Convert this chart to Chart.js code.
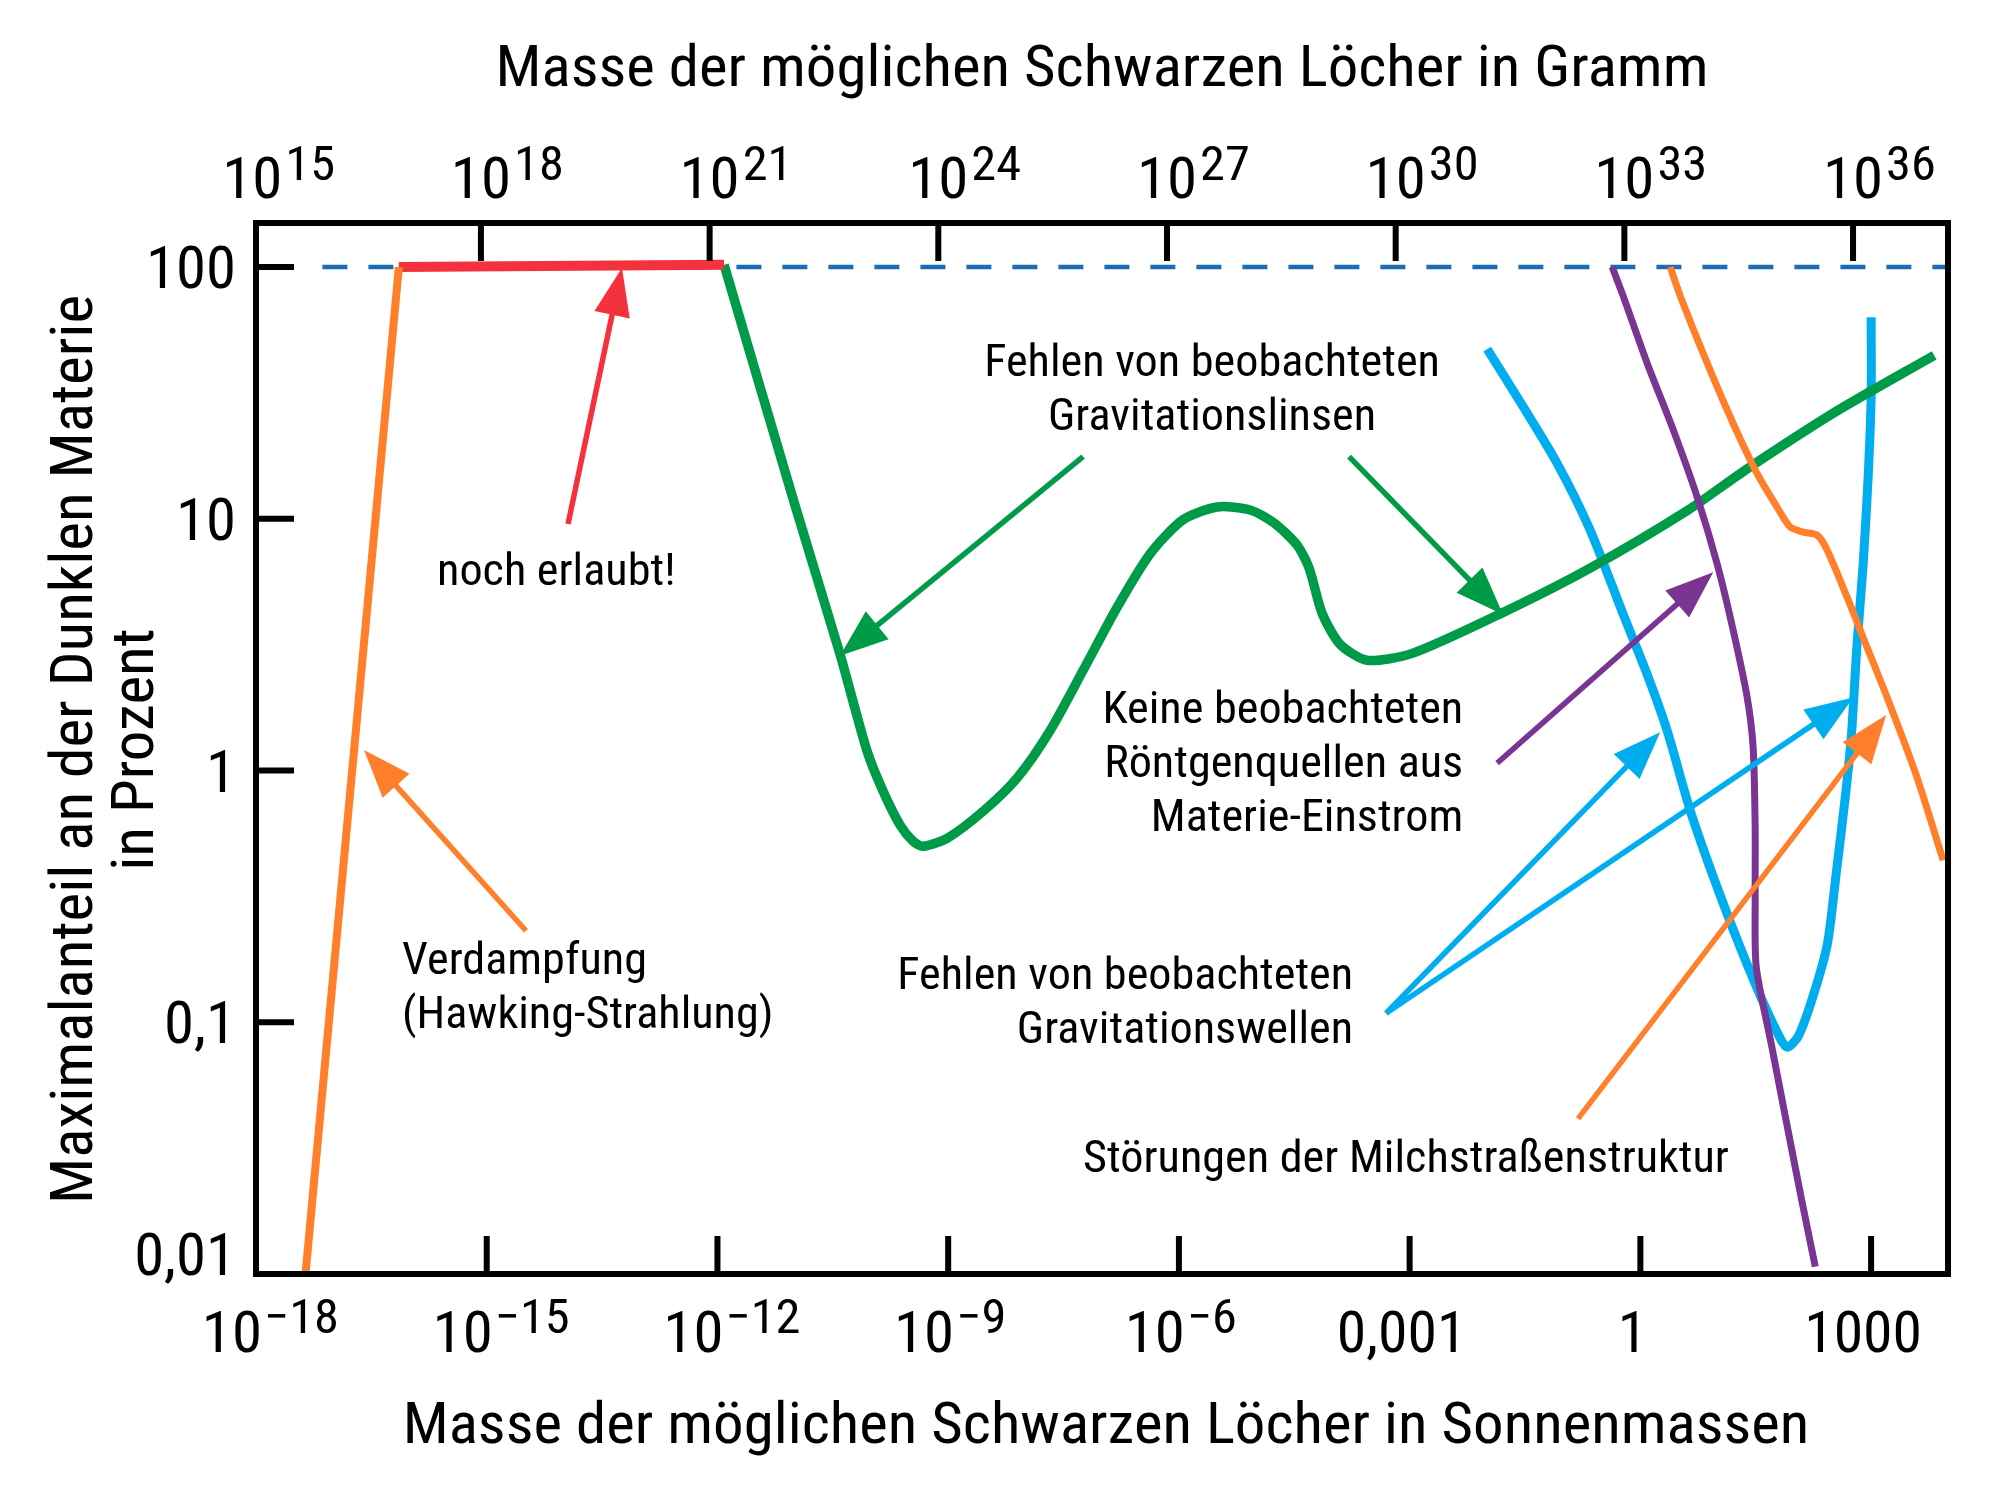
<!DOCTYPE html>
<html lang="de">
<head>
<meta charset="utf-8">
<title>Primordiale Schwarze Löcher als Dunkle Materie</title>
<script src="https://cdn.jsdelivr.net/npm/chart.js@4.4.1/dist/chart.umd.min.js"></script>
<style>
  html, body { margin: 0; padding: 0; background: #fff; }
  #wrap { width: 2000px; height: 1502px; position: relative; }
</style>
</head>
<body>
<div id="wrap"><canvas id="chart"></canvas></div>
<script>
// --- axes ---
const massMin = 1e-18, massMax = 1e4;          // Sonnenmassen (bottom)
const gramsMin = 1.12e15, gramsMax = 1.76e37;  // Gramm (top), range as drawn in the figure
const shareMin = 0.01, shareMax = 149.6;       // Prozent

const bottomTickValues = [1e-18, 1e-15, 1e-12, 1e-9, 1e-6, 1e-3, 1, 1e3];
const bottomTickBase = ['10', '10', '10', '10', '10', '0,001', '1', '1000'];
const bottomTickExp = ['\u221218', '\u221215', '\u221212', '\u22129', '\u22126', '', '', ''];
const topTickValues = [1e15, 1e18, 1e21, 1e24, 1e27, 1e30, 1e33, 1e36];
const topTickExp = ['15', '18', '21', '24', '27', '30', '33', '36'];
const shareTickValues = [0.01, 0.1, 1, 10, 100];
const shareTickLabels = ['0,01', '0,1', '1', '10', '100'];

// --- curves (mass in Sonnenmassen, share in %) ---
const evapMass = [4.4e-18, 7.2e-17];
const evapShare = [0.01, 100];

const allowedMass = [7.2e-17, 1.22e-12];
const allowedShare = [100, 102];

const lensMass = [1.22e-12, 1.02e-11, 3.93e-11, 8.81e-11, 1.42e-10, 2.37e-10, 3.50e-10, 4.72e-10, 9.68e-10,
  2.85e-9, 7.87e-9, 2.11e-8, 5.68e-8, 1.57e-7, 4.22e-7, 1.13e-6, 3.14e-6, 8.43e-6, 1.73e-5, 3.44e-5,
  4.93e-5, 7.28e-5, 1.25e-4, 2.80e-4, 1.08e-3, 0.0155, 0.222, 4.19, 23.8, 352, 6610];
const lensShare = [102, 11.3, 2.89, 1.195, 0.829, 0.607, 0.524, 0.500, 0.538,
  0.689, 0.934, 1.44, 2.50, 4.45, 7.26, 9.91, 11.14, 10.84, 9.62, 7.86,
  6.37, 4.21, 3.17, 2.74, 2.92, 4.21, 6.37, 10.84, 15.7, 26.7, 44.6];

const gwMass = [0.0102, 0.0299, 0.0828, 0.222, 0.597, 1.225, 2.23, 4.57, 12.7, 32.1, 63.8, 81, 113, 171,
  269, 352, 460, 551, 659, 789, 916, 1002, 1002];
const gwShare = [47.2, 27.9, 16.6, 9.03, 4.18, 2.41, 1.44, 0.676, 0.282, 0.139, 0.0879, 0.0795, 0.0879, 0.1235,
  0.203, 0.390, 0.777, 1.34, 3.22, 6.61, 14.7, 30.6, 63.2];

const xrayMass = [0.43, 0.597, 1.225, 2.67, 5.48, 9.98, 16.1, 24.5, 29.3, 31.1, 31.1, 32.1, 50.2, 78.7, 123, 188];
const xrayShare = [100, 76.8, 41.5, 22.6, 12.2, 6.61, 3.61, 1.95, 1.23, 0.590, 0.310, 0.166, 0.0824, 0.0406, 0.0202, 0.0107];

const milkyMass = [2.44, 3.30, 7.40, 16.1, 33.0, 60.1, 88.7, 131, 199, 269, 489, 789, 1618, 3855, 8650];
const milkyShare = [100, 76.8, 41.5, 23.9, 15.1, 11.1, 9.27, 8.85, 8.61, 7.50, 4.87, 3.37, 1.95, 0.960, 0.440];

const fullMass = [7.3e-18, 1e4];
const fullShare = [100, 100];

// --- annotations (anchor in data coordinates) ---
const noteLines = [
  ['noch erlaubt!'],
  ['Verdampfung', '(Hawking-Strahlung)'],
  ['Fehlen von beobachteten', 'Gravitationslinsen'],
  ['Keine beobachteten', 'R\u00f6ntgenquellen aus', 'Materie-Einstrom'],
  ['Fehlen von beobachteten', 'Gravitationswellen'],
  ['St\u00f6rungen der Milchstra\u00dfenstruktur'],
];
const noteMass = [2.26e-16, 7.93e-17, 2.70e-6, 4.97e-3, 1.84e-4, 5.68e-8];
const noteShare = [5.44, 0.1555, 36.8, 1.546, 0.1355, 0.0254];
const noteAlign = ['left', 'left', 'center', 'right', 'right', 'left'];

const arrowFrom = [[1.14e-14, 9.53], [3.24e-15, 0.231], [5.68e-8, 17.65], [1.63e-4, 17.65],
  [0.01374, 1.07], [4.94e-4, 0.1086], [4.94e-4, 0.1086], [0.155, 0.0414]];
const arrowTo = [[5.74e-14, 99.3], [2.54e-17, 1.206], [3.93e-11, 2.86], [0.0164, 4.17],
  [8.85, 6.13], [1.81, 1.42], [585, 1.95], [1570, 1.66]];

const GREEN = '#009b48', BLUE = '#00adef', PURPLE = '#7a3592', ORANGE = '#ff7f2a', RED = '#f4323d', DASH_BLUE = '#1d6db6';
const arrowColors = [RED, ORANGE, GREEN, GREEN, PURPLE, BLUE, BLUE, ORANGE];

// pick a condensed face if one is installed, else squeeze Roboto
function pickFont() {
  const c = document.createElement('canvas').getContext('2d');
  const probe = 'Masse der m\u00f6glichen Schwarzen L\u00f6cher 0123456789';
  c.font = '50px monospace';
  const ref = c.measureText(probe).width;
  for (const f of ['Roboto Condensed', 'Liberation Sans Narrow', 'DejaVu Sans Condensed']) {
    c.font = `50px "${f}", monospace`;
    if (Math.abs(c.measureText(probe).width - ref) > 0.5) return { family: `"${f}", sans-serif`, squeeze: 1.05 };
  }
  return { family: 'Roboto, sans-serif', squeeze: 0.91 };
}
const FONT = pickFont();

function textWidth(ctx, str, size) {
  ctx.save();
  ctx.font = `${size}px ${FONT.family}`;
  const w = ctx.measureText(str).width * FONT.squeeze;
  ctx.restore();
  return w;
}

function putText(ctx, str, px, py, size, align, rotate, widen) {
  ctx.save();
  ctx.font = `${size}px ${FONT.family}`;
  ctx.fillStyle = '#000';
  ctx.textAlign = align;
  ctx.textBaseline = 'alphabetic';
  ctx.translate(px, py);
  if (rotate) ctx.rotate(-Math.PI / 2);
  ctx.scale(FONT.squeeze * (widen || 1), 1);
  ctx.fillText(str, 0, 0);
  ctx.restore();
}

function drawArrow(ctx, x0, y0, x1, y1, color) {
  const headLen = 48, headHalf = 18;
  const dx = x1 - x0, dy = y1 - y0;
  const len = Math.hypot(dx, dy);
  const ux = dx / len, uy = dy / len;
  const bx = x1 - ux * headLen, by = y1 - uy * headLen;
  ctx.save();
  ctx.strokeStyle = color;
  ctx.fillStyle = color;
  ctx.lineWidth = 5.5;
  ctx.lineCap = 'butt';
  ctx.beginPath();
  ctx.moveTo(x0, y0);
  ctx.lineTo(bx + ux * 4, by + uy * 4);
  ctx.stroke();
  ctx.beginPath();
  ctx.moveTo(x1, y1);
  ctx.lineTo(bx - uy * headHalf, by + ux * headHalf);
  ctx.lineTo(bx + uy * headHalf, by - ux * headHalf);
  ctx.closePath();
  ctx.fill();
  ctx.restore();
}

const frameAndLabels = {
  id: 'frameAndLabels',
  afterDatasetsDraw(chart) {
    const { ctx, chartArea: a, scales } = chart;
    const xs = scales.x, x2 = scales.x2, ys = scales.y;
    const TICK_LEN = 38;

    // arrows
    arrowFrom.forEach((f, i) => {
      const t = arrowTo[i];
      drawArrow(ctx, xs.getPixelForValue(f[0]), ys.getPixelForValue(f[1]),
        xs.getPixelForValue(t[0]), ys.getPixelForValue(t[1]), arrowColors[i]);
    });

    // annotation texts
    noteLines.forEach((lines, i) => {
      const px = xs.getPixelForValue(noteMass[i]);
      const py = ys.getPixelForValue(noteShare[i]);
      lines.forEach((ln, j) => putText(ctx, ln, px, py + j * 54, 44, noteAlign[i]));
    });

    // frame
    ctx.save();
    ctx.strokeStyle = '#000';
    ctx.lineWidth = 6;
    ctx.strokeRect(a.left, a.top, a.right - a.left, a.bottom - a.top);
    ctx.lineCap = 'butt';
    ctx.beginPath();
    bottomTickValues.forEach(v => {
      const px = xs.getPixelForValue(v);
      if (px > a.left + 5 && px < a.right - 5) { ctx.moveTo(px, a.bottom); ctx.lineTo(px, a.bottom - TICK_LEN); }
    });
    topTickValues.forEach(v => {
      const px = x2.getPixelForValue(v);
      if (px > a.left + 5 && px < a.right - 5) { ctx.moveTo(px, a.top); ctx.lineTo(px, a.top + TICK_LEN); }
    });
    shareTickValues.forEach(v => {
      const py = ys.getPixelForValue(v);
      if (py > a.top + 5 && py < a.bottom - 5) { ctx.moveTo(a.left, py); ctx.lineTo(a.left + TICK_LEN, py); }
    });
    ctx.stroke();
    ctx.restore();

    // y tick labels
    shareTickValues.forEach((v, i) => {
      const py = ys.getPixelForValue(v);
      const base = py > a.bottom - 5 ? a.bottom + 1 : py + 21;
      putText(ctx, shareTickLabels[i], a.left - 20, base, 59, 'right', false, 0.98);
    });

    // bottom tick labels
    bottomTickValues.forEach((v, i) => {
      const px = xs.getPixelForValue(v);
      if (bottomTickExp[i]) {
        putText(ctx, bottomTickBase[i], px + 6, a.bottom + 78, 58, 'right');
        putText(ctx, bottomTickExp[i], px + 8, a.bottom + 59, 48, 'left');
      } else {
        putText(ctx, bottomTickBase[i], px - 8, a.bottom + 78, 58, 'center', false, 0.98);
      }
    });

    // top tick labels
    topTickValues.forEach((v, i) => {
      const px = x2.getPixelForValue(v);
      const wb = textWidth(ctx, '10', 58);
      putText(ctx, '10', px - wb / 2, a.top - 25, 58, 'left');
      putText(ctx, topTickExp[i], px + wb / 2 + 3, a.top - 43, 48, 'left');
    });

    // axis titles
    const cx = (a.left + a.right) / 2;
    const cy = (a.top + a.bottom) / 2 + 1;
    putText(ctx, 'Masse der m\u00f6glichen Schwarzen L\u00f6cher in Gramm', cx, a.top - 137, 58, 'center');
    putText(ctx, 'Masse der m\u00f6glichen Schwarzen L\u00f6cher in Sonnenmassen', cx + 4, a.bottom + 169, 58, 'center');
    putText(ctx, 'Maximalanteil an der Dunklen Materie', a.left - 164, cy, 60, 'center', true, 0.97);
    putText(ctx, 'in Prozent', a.left - 103, cy, 60, 'center', true, 0.97);
  }
};

function series(xs, ys) {
  return xs.map((x, i) => ({ x, y: ys[i] }));
}

const lineStyle = { pointRadius: 0, pointHoverRadius: 0, fill: false, borderCapStyle: 'butt', borderJoinStyle: 'round' };

const datasets = [
  { label: 'Verdampfung', data: series(evapMass, evapShare), borderColor: ORANGE, borderWidth: 8, tension: 0, ...lineStyle },
  { label: 'noch erlaubt', data: series(allowedMass, allowedShare), borderColor: RED, borderWidth: 10, tension: 0, ...lineStyle },
  { label: 'Röntgenquellen', data: series(xrayMass, xrayShare), borderColor: PURPLE, borderWidth: 7, tension: 0.25, ...lineStyle },
  { label: 'Milchstraßenstruktur', data: series(milkyMass, milkyShare), borderColor: ORANGE, borderWidth: 7, tension: 0.25, ...lineStyle },
  { label: 'Gravitationslinsen', data: series(lensMass, lensShare), borderColor: GREEN, borderWidth: 9.5, tension: 0.25, ...lineStyle },
  { label: 'Gravitationswellen', data: series(gwMass, gwShare), borderColor: BLUE, borderWidth: 9, tension: 0.25, ...lineStyle },
  { label: '100 %', data: series(fullMass, fullShare), borderColor: DASH_BLUE, borderWidth: 4.5, borderDash: [25, 21], tension: 0, ...lineStyle },
];

const hidden = { display: false };

new Chart(document.getElementById('chart'), {
  type: 'line',
  data: { datasets },
  options: {
    responsive: true,
    maintainAspectRatio: false,
    animation: false,
    events: [],
    layout: { padding: { left: 0, right: 52, top: 0, bottom: 0 } },
    plugins: { legend: hidden, tooltip: { enabled: false }, title: hidden },
    scales: {
      x: {
        type: 'logarithmic', position: 'bottom', min: massMin, max: massMax,
        ticks: hidden, grid: hidden, border: hidden,
        afterFit: s => { s.height = 228; }
      },
      x2: {
        type: 'logarithmic', position: 'top', min: gramsMin, max: gramsMax,
        ticks: hidden, grid: hidden, border: hidden,
        afterFit: s => { s.height = 223; }
      },
      y: {
        type: 'logarithmic', position: 'left', min: shareMin, max: shareMax,
        ticks: hidden, grid: hidden, border: hidden,
        afterFit: s => { s.width = 256; }
      }
    }
  },
  plugins: [frameAndLabels]
});
</script>
</body>
</html>
